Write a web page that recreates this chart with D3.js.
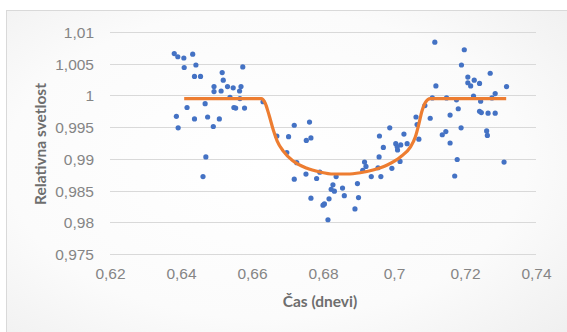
<!DOCTYPE html>
<html>
<head>
<meta charset="utf-8">
<script src="https://cdn.jsdelivr.net/npm/d3@7"></script>
<style>
  html, body { margin: 0; padding: 0; background: #fff; }
  svg { display: block; font-family: Lato, "Open Sans", sans-serif; }
</style>
</head>
<body>
<div id="chart"></div>
<script>
// observed points: time (days) and relative brightness
const pointX = [
  0.6381, 0.6391, 0.6408, 0.6433, 0.6442, 0.6409, 0.6438, 0.6455, 0.6516, 0.6574,
  0.6519, 0.6493, 0.6493, 0.6513, 0.6531, 0.6547, 0.6569, 0.6565, 0.6538, 0.6566,
  0.6631, 0.6417, 0.6468, 0.6549, 0.6554, 0.6579, 0.6387, 0.6438, 0.6475, 0.6508,
  0.6392, 0.6491, 0.6470, 0.6462,
  0.6670, 0.6703, 0.6719, 0.6762, 0.6753, 0.6766, 0.6698, 0.6726, 0.6719, 0.6752,
  0.6782, 0.6791, 0.6766, 0.6800, 0.6804, 0.6817, 0.6814, 0.6837, 0.6828, 0.6823,
  0.6832, 0.6855, 0.6860, 0.6890, 0.6900, 0.6897, 0.6917, 0.6921, 0.6912, 0.6936,
  0.6955, 0.6963, 0.6994, 0.6958, 0.6970, 0.6959, 0.6988, 0.7005, 0.7010, 0.7019,
  0.7028, 0.7037, 0.7017, 0.7070, 0.7065, 0.7062, 0.7102, 0.7087, 0.7009,
  0.7115, 0.7198, 0.7190, 0.7271, 0.7118, 0.7317, 0.7208, 0.7208, 0.7216, 0.7226,
  0.7241, 0.7285, 0.7224, 0.7276, 0.7108, 0.7148, 0.7176, 0.7244, 0.7241, 0.7246,
  0.7265, 0.7285, 0.7181, 0.7158, 0.7189, 0.7136, 0.7146, 0.7158, 0.7261, 0.7263,
  0.7178, 0.7310, 0.7171
];
const pointY = [
  1.0066, 1.0061, 1.0059, 1.0065, 1.0048, 1.0044, 1.0030, 1.0030, 1.0036, 1.0045,
  1.0024, 1.0014, 1.0006, 1.0007, 1.0014, 1.0012, 1.0014, 1.0007, 0.9997, 0.9995,
  0.9990, 0.9981, 0.9987, 0.9981, 0.9980, 0.9980, 0.9967, 0.9963, 0.9966, 0.9963,
  0.9949, 0.9951, 0.9903, 0.9872,
  0.9936, 0.9935, 0.9953, 0.9958, 0.9929, 0.9933, 0.9910, 0.9894, 0.9868, 0.9876,
  0.9869, 0.9879, 0.9838, 0.9827, 0.9829, 0.9837, 0.9804, 0.9872, 0.9859, 0.9852,
  0.9849, 0.9854, 0.9842, 0.9821, 0.9839, 0.9861, 0.9895, 0.9888, 0.9882, 0.9872,
  0.9886, 0.9872, 0.9885, 0.9903, 0.9918, 0.9936, 0.9949, 0.9924, 0.9914, 0.9922,
  0.9939, 0.9924, 0.9896, 0.9931, 0.9954, 0.9966, 0.9964, 0.9984, 0.9919,
  1.0084, 1.0072, 1.0048, 1.0035, 1.0015, 1.0014, 1.0029, 1.0020, 1.0015, 1.0024,
  1.0019, 1.0003, 0.9999, 0.9996, 0.9996, 0.9996, 0.9993, 0.9991, 0.9975, 0.9973,
  0.9972, 0.9972, 0.9979, 0.9969, 0.9949, 0.9938, 0.9943, 0.9925, 0.9944, 0.9937,
  0.9899, 0.9895, 0.9873
];

// fitted transit model
const modelX = [0.6409, 0.6626, 0.6637, 0.6648, 0.6660, 0.6671, 0.6688, 0.6716, 0.6753, 0.6792,
  0.6829, 0.6868, 0.6905, 0.6941, 0.6981, 0.7018, 0.7046, 0.7060, 0.7070, 0.7078, 0.7088, 0.7102, 0.7316];
const modelY = [0.99951, 0.99951, 0.99880, 0.99691, 0.99455, 0.99281, 0.99123, 0.98966, 0.98855, 0.98792,
  0.98761, 0.98761, 0.98781, 0.98824, 0.98903, 0.99029, 0.99186, 0.99344, 0.99549, 0.99738, 0.99888, 0.99951, 0.99951];

const xTicks = [0.62, 0.64, 0.66, 0.68, 0.70, 0.72, 0.74];
const yTicks = [0.975, 0.98, 0.985, 0.99, 0.995, 1, 1.005, 1.01];

const W = 567, H = 332;
const margin = { top: 32, right: 31, bottom: 78, left: 110 };

const loc = d3.formatLocale({ decimal: ",", thousands: ".", grouping: [3], currency: ["", ""] });
const fmtY = loc.format(".3~f");
const fmtX = loc.format(".2~f");

const svg = d3.select("#chart").append("svg").attr("width", W).attr("height", H);

const defs = svg.append("defs");
const grad = defs.append("radialGradient").attr("id", "bg")
  .attr("cx", "45%").attr("cy", "45%").attr("r", "75%");
grad.append("stop").attr("offset", "0%").attr("stop-color", "#ffffff");
grad.append("stop").attr("offset", "60%").attr("stop-color", "#fbfbfb");
grad.append("stop").attr("offset", "100%").attr("stop-color", "#eeeeee");

// chart area frame
svg.append("rect")
  .attr("x", 6.5).attr("y", 10.5)
  .attr("width", W + 10).attr("height", H + 10)
  .attr("fill", "url(#bg)")
  .attr("stroke", "#d9d9d9");

const x = d3.scaleLinear().domain([0.62, 0.74]).range([margin.left, W - margin.right]);
const y = d3.scaleLinear().domain([0.975, 1.01]).range([H - margin.bottom, margin.top]);

// gridlines
svg.append("g")
  .selectAll("line")
  .data(yTicks)
  .join("line")
  .attr("x1", x(0.62)).attr("x2", x(0.74))
  .attr("y1", (d) => Math.round(y(d)) + 0.5)
  .attr("y2", (d) => Math.round(y(d)) + 0.5)
  .attr("stroke", "#d9d9d9")
  .attr("stroke-width", 1);

// y axis labels
const yAxis = svg.append("g")
  .attr("transform", `translate(${margin.left - 16},0)`)
  .call(d3.axisLeft(y).tickValues(yTicks).tickFormat(fmtY).tickSize(0).tickPadding(0));
yAxis.select(".domain").remove();
yAxis.selectAll("text")
  .attr("fill", "#858585")
  .style("font-size", "15.5px")
  .attr("dy", "0.35em");

// x axis labels
const xAxis = svg.append("g")
  .attr("transform", `translate(0,${H - margin.bottom})`)
  .call(d3.axisBottom(x).tickValues(xTicks).tickFormat(fmtX).tickSize(0).tickPadding(14));
xAxis.select(".domain").remove();
xAxis.selectAll("text")
  .attr("fill", "#858585")
  .style("font-size", "15.5px");

// axis titles
svg.append("text")
  .attr("x", x(0.68) - 3)
  .attr("y", 307)
  .attr("text-anchor", "middle")
  .attr("fill", "#6e6e6e")
  .style("font-size", "15.5px")
  .style("font-weight", "bold")
  .text("Čas (dnevi)");

svg.append("text")
  .attr("transform", `translate(46,${(y(0.975) + y(1.01)) / 2 + 1}) rotate(-90)`)
  .attr("text-anchor", "middle")
  .attr("fill", "#6e6e6e")
  .style("font-size", "15.5px")
  .style("font-weight", "bold")
  .text("Relativna svetlost");

// points
svg.append("g")
  .selectAll("circle")
  .data(d3.range(pointX.length))
  .join("circle")
  .attr("cx", (i) => x(pointX[i]))
  .attr("cy", (i) => y(pointY[i]))
  .attr("r", 2.6)
  .attr("fill", "#4472c4");

// model line
const line = d3.line()
  .x((i) => x(modelX[i]))
  .y((i) => y(modelY[i]))
  .curve(d3.curveMonotoneX);

svg.append("path")
  .datum(d3.range(modelX.length))
  .attr("fill", "none")
  .attr("stroke", "#ed7d31")
  .attr("stroke-width", 3.2)
  .attr("stroke-linejoin", "round")
  .attr("d", line);
</script>
</body>
</html>
